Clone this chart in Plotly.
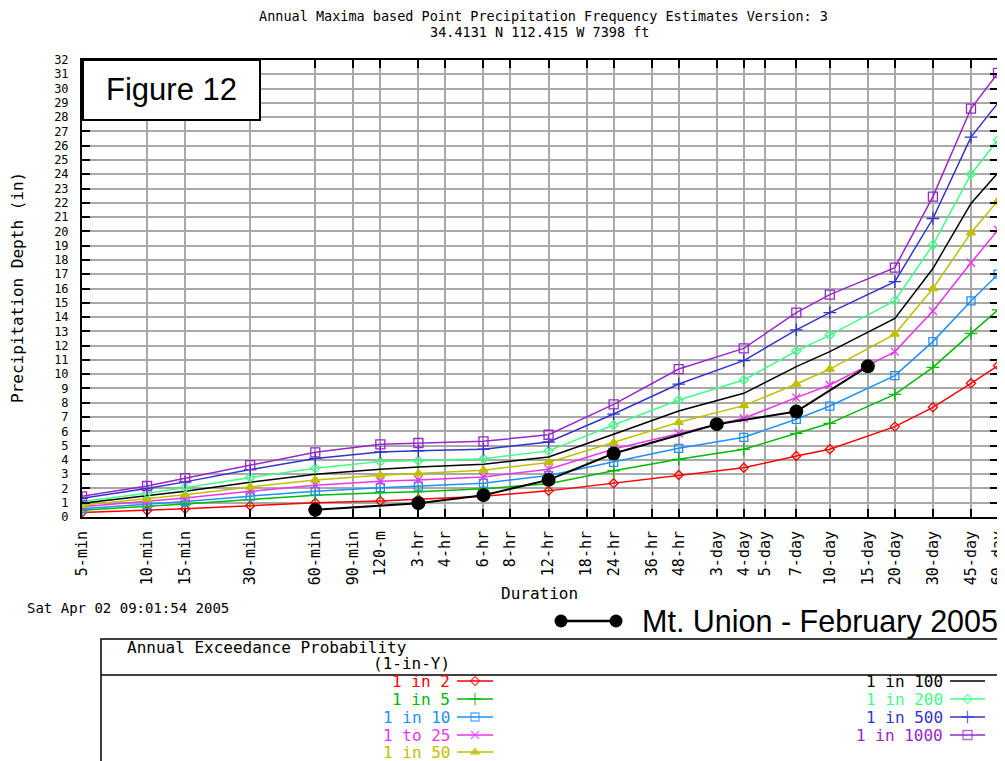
import plotly.graph_objects as go
import math

# page offset (browser body margin) compensation
OX, OY = 8, 8
W, H = 1005 - OX, 761 - OY

# ---------------- data ----------------
durations_min = [5, 10, 15, 30, 60, 120, 180, 360, 720, 1440, 2880, 5760,
                 10080, 14400, 28800, 43200, 64800, 86400]

tick_minutes = [5, 10, 15, 30, 60, 90, 120, 180, 240, 360, 480, 720, 1080, 1440,
                2160, 2880, 4320, 5760, 7200, 10080, 14400, 21600, 28800, 43200,
                64800, 86400]
tick_labels = ["5-min", "10-min", "15-min", "30-min", "60-min", "90-min", "120-m",
               "3-hr", "4-hr", "6-hr", "8-hr", "12-hr", "18-hr", "24-hr", "36-hr",
               "48-hr", "3-day", "4-day", "5-day", "7-day", "10-day", "15-day",
               "20-day", "30-day", "45-day", "60-day"]
y_ticks = list(range(0, 33))

depth_1in2 = [0.31, 0.45, 0.57, 0.79, 1.00, 1.12, 1.24, 1.46, 1.83, 2.36, 2.94, 3.45,
              4.27, 4.74, 6.33, 7.68, 9.36, 10.60]
depth_1in5 = [0.48, 0.73, 0.91, 1.22, 1.53, 1.70, 1.77, 1.98, 2.33, 3.24, 4.04, 4.74,
              5.86, 6.56, 8.59, 10.48, 12.86, 14.50]
depth_1in10 = [0.58, 0.87, 1.08, 1.46, 1.80, 2.05, 2.16, 2.37, 2.90, 3.83, 4.81, 5.58,
               6.84, 7.77, 9.90, 12.28, 15.13, 17.00]
depth_1in25 = [0.71, 1.08, 1.33, 1.80, 2.22, 2.50, 2.59, 2.80, 3.35, 4.76, 5.86, 6.91,
               8.36, 9.24, 11.58, 14.42, 17.80, 20.10]
depth_1in50 = [0.83, 1.26, 1.55, 2.10, 2.59, 2.92, 3.04, 3.27, 3.82, 5.20, 6.63, 7.80,
               9.31, 10.36, 12.81, 16.00, 19.90, 22.15]
depth_1in100 = [0.96, 1.46, 1.80, 2.43, 3.00, 3.35, 3.50, 3.70, 4.20, 5.79, 7.42, 8.66,
                10.53, 11.58, 13.91, 17.40, 21.96, 24.10]
depth_1in200 = [1.09, 1.66, 2.05, 2.77, 3.42, 3.88, 3.94, 4.08, 4.63, 6.44, 8.19, 9.59,
                11.62, 12.74, 15.15, 19.05, 24.00, 26.40]
depth_1in500 = [1.31, 1.99, 2.46, 3.32, 4.10, 4.55, 4.64, 4.75, 5.25, 7.21, 9.31, 10.95,
                13.10, 14.31, 16.48, 20.90, 26.60, 29.00]
depth_1in1000 = [1.45, 2.17, 2.72, 3.63, 4.53, 5.09, 5.18, 5.30, 5.76, 7.89, 10.36, 11.81,
                 14.31, 15.57, 17.46, 22.43, 28.60, 31.10]

series_names = ["1 in 2", "1 in 5", "1 in 10", "1 to 25", "1 in 50",
                "1 in 100", "1 in 200", "1 in 500", "1 in 1000"]
series_values = [depth_1in2, depth_1in5, depth_1in10, depth_1in25, depth_1in50,
                 depth_1in100, depth_1in200, depth_1in500, depth_1in1000]

mt_union_durations = [60, 180, 360, 720, 1440, 4320, 10080, 21600]
mt_union_depths = [0.50, 0.97, 1.53, 2.60, 4.45, 6.50, 7.38, 10.55]

# ---------------- styles ----------------
colors = ["#ff0000", "#00bb00", "#1e90ff", "#ee33ee", "#c0c000",
          "#000000", "#40ff88", "#3333cc", "#9926cc"]
symbols = ["diamond-open", "cross-thin-open", "square-open", "x-thin-open", "triangle-up",
           None, "diamond-open", "cross-thin-open", "square-open"]
msizes = [7, 9, 8, 8, 8, 0, 7, 9, 9]

MONO = "DejaVu Sans Mono"
SANS = "Liberation Sans"


def fx(x):
    return (x - OX) / W


def fy(y):
    return 1 - (y - OY) / H


fig = go.Figure()

for name, vals, c, s, ms in zip(series_names, series_values, colors, symbols, msizes):
    if s is None:
        fig.add_trace(go.Scatter(x=durations_min, y=vals, mode="lines", name=name,
                                 line=dict(color=c, width=1.5), showlegend=False))
    else:
        fig.add_trace(go.Scatter(x=durations_min, y=vals, mode="lines+markers", name=name,
                                 line=dict(color=c, width=1.5),
                                 marker=dict(symbol=s, size=ms, color=c,
                                             line=dict(color=c, width=1.3)),
                                 showlegend=False))

fig.add_trace(go.Scatter(x=mt_union_durations, y=mt_union_depths, mode="lines+markers",
                         name="Mt. Union - February 2005",
                         line=dict(color="black", width=2),
                         marker=dict(symbol="circle", size=14, color="black"),
                         showlegend=False))

# ---------------- legend glyphs (overlay axis in page pixel units) ----------------
left_rows = [681, 699, 717, 735, 752]
right_rows = [681, 699, 717, 735]
legend_slots = [(457, 493, y) for y in left_rows] + [(950, 985, y) for y in right_rows]
for (x0, x1, yy), c, s, ms in zip(legend_slots, colors, symbols, msizes):
    xm = (x0 + x1) / 2
    if s is None:
        fig.add_trace(go.Scatter(x=[x0, x1], y=[yy, yy], mode="lines", xaxis="x2", yaxis="y2",
                                 line=dict(color=c, width=1.5), showlegend=False,
                                 hoverinfo="skip"))
    else:
        fig.add_trace(go.Scatter(x=[x0, xm, x1], y=[yy, yy, yy], mode="lines+markers",
                                 xaxis="x2", yaxis="y2",
                                 line=dict(color=c, width=1.5),
                                 marker=dict(symbol=s, size=[0, ms, 0], color=c,
                                             line=dict(color=c, width=1.3)),
                                 showlegend=False, hoverinfo="skip"))

fig.add_trace(go.Scatter(x=[561, 616], y=[621, 621], mode="lines+markers", xaxis="x2", yaxis="y2",
                         line=dict(color="black", width=2.5),
                         marker=dict(symbol="circle", size=13, color="black"),
                         showlegend=False, hoverinfo="skip"))

# ---------------- annotations ----------------
ann = []


def add_text(text, x, y, size, family=MONO, xanchor="center", color="black", angle=0):
    ann.append(dict(text=text, x=fx(x), y=fy(y), xref="paper", yref="paper",
                    xanchor=xanchor, yanchor="middle", showarrow=False, textangle=angle,
                    font=dict(family=family, size=size, color=color)))


add_text("Annual Maxima based Point Precipitation Frequency Estimates Version: 3", 543, 16.5, 13.5)
add_text("34.4131 N 112.415 W 7398 ft", 539, 32.5, 13.5)
add_text("Precipitation Depth (in)", 17, 288, 16, angle=-90)
add_text("Duration", 539, 593, 16)
add_text("Sat Apr 02 09:01:54 2005", 25, 608, 14, xanchor="left")
add_text("Mt. Union - February 2005", 640, 621, 30.5, family=SANS, xanchor="left")
add_text("Figure 12", 171, 89, 31, family=SANS)
add_text("Annual Exceedance Probability", 125, 647, 16, xanchor="left")
add_text("(1-in-Y)", 452, 663, 16, xanchor="right")
for name, c, (x0, x1, yy) in zip(series_names, colors, legend_slots):
    add_text(name, x0 - 5, yy, 16, xanchor="right", color=c)

shapes = [
    dict(type="rect", xref="paper", yref="paper", x0=fx(83), x1=fx(260), y0=fy(60), y1=fy(120),
         fillcolor="white", line=dict(color="black", width=2), layer="above"),
    dict(type="rect", xref="paper", yref="paper", x0=fx(101), x1=fx(1000), y0=fy(639), y1=fy(775),
         fillcolor="rgba(0,0,0,0)", line=dict(color="black", width=1.5), layer="above"),
    dict(type="line", xref="paper", yref="paper", x0=fx(101), x1=fx(1000), y0=fy(675), y1=fy(675),
         line=dict(color="black", width=1.5), layer="above"),
]

fig.update_layout(
    template="none",
    width=W, height=H, autosize=False,
    margin=dict(l=0, r=0, t=0, b=0, pad=0),
    paper_bgcolor="white", plot_bgcolor="rgba(0,0,0,0)",
    showlegend=False,
    annotations=ann, shapes=shapes,
    xaxis=dict(type="log", range=[math.log10(5), math.log10(86400.5)],
               domain=[fx(82), fx(998)], anchor="y",
               tickmode="array", tickvals=tick_minutes, ticktext=tick_labels,
               tickangle=-90, tickfont=dict(family=MONO, size=15, color="black"),
               ticklabeloverflow="allow",
               ticks="inside", ticklen=8, tickwidth=1.5, tickcolor="black",
               showline=True, linecolor="black", linewidth=2, mirror="ticks",
               showgrid=True, gridcolor="#a9a9a9", gridwidth=1.6,
               zeroline=False, automargin=False, ticklabelstandoff=6),
    yaxis=dict(range=[0, 32], domain=[fy(517), fy(60)], anchor="x",
               tickmode="array", tickvals=y_ticks, ticktext=[str(v) for v in y_ticks],
               tickfont=dict(family=MONO, size=12, color="black"),
               ticklabeloverflow="allow",
               ticks="inside", ticklen=8, tickwidth=1.5, tickcolor="black",
               showline=True, linecolor="black", linewidth=2, mirror="ticks",
               showgrid=True, gridcolor="#a9a9a9", gridwidth=1.6,
               zeroline=False, automargin=False, ticklabelstandoff=9),
    xaxis2=dict(range=[OX, OX + W], domain=[0, 1], anchor="y2", visible=False, fixedrange=True),
    yaxis2=dict(range=[OY + H, OY], domain=[0, 1], anchor="x2", visible=False, fixedrange=True),
)

fig.write_html("out.html")
